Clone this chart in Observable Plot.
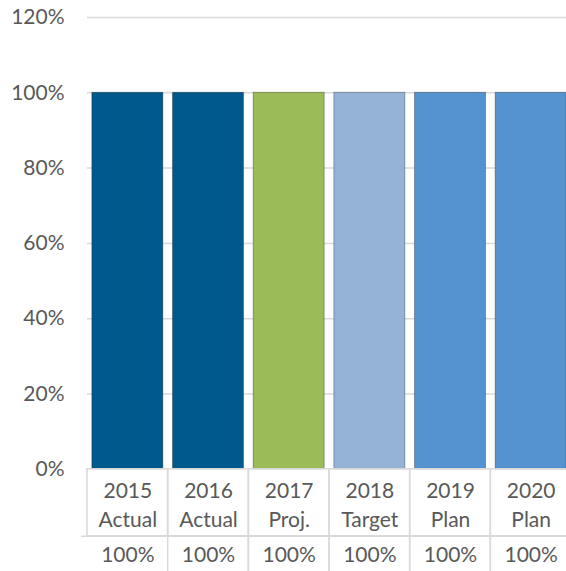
<!DOCTYPE html>
<html>
<head>
<meta charset="utf-8">
<script src="https://cdn.jsdelivr.net/npm/d3@7"></script>
<script src="https://cdn.jsdelivr.net/npm/@observablehq/plot@0.6"></script>
<style>
  html, body { margin: 0; padding: 0; background: #fff; overflow: hidden; }
  #chart { width: 566px; height: 571px; overflow: hidden; }
  #chart svg { display: block; overflow: hidden; }
</style>
</head>
<body>
<div id="chart"></div>
<script>
const years = ["2015", "2016", "2017", "2018", "2019", "2020"];
const stages = ["Actual", "Actual", "Proj.", "Target", "Plan", "Plan"];
const values = [1.0, 1.0, 1.0, 1.0, 1.0, 1.0];
const colors = ["#00598c", "#00598c", "#9bbb59", "#95b3d7", "#5592d0", "#5592d0"];
const yTicks = [0, 0.2, 0.4, 0.6, 0.8, 1.0, 1.2];

const cats = years.map((y, i) => `${y}\n${stages[i]}`);
const data = cats.map((c, i) => ({cat: c, value: values[i], color: colors[i]}));

// table rows lie below the 0% baseline (in y units)
const row1Bottom = -0.178;
const row2Bottom = -0.2715;
const textColor = "#595959";
const gridColor = "#d9d9d9";
const xRange = [87, 571];
const padInner = 0.12;
// half the gap between bars, so table cells span the full band step
const cellInset = -((xRange[1] - xRange[0]) / cats.length) * padInner / 2;
const fs = 21;

const chart = Plot.plot({
  width: 566,
  height: 571,
  marginTop: 17,
  marginBottom: 0,
  marginLeft: 87,
  marginRight: 0,
  style: {fontFamily: "Lato, 'Liberation Sans', sans-serif", fontSize: fs + "px", color: textColor, background: "#fff", overflow: "hidden"},
  x: {domain: cats, range: xRange, round: false, paddingInner: padInner, paddingOuter: padInner / 2, axis: null},
  y: {domain: [row2Bottom, 1.2], axis: null},
  marks: [
    Plot.ruleY(yTicks.filter(d => d > 0), {stroke: gridColor, strokeWidth: 1.5}),
    Plot.axisY(yTicks, {tickFormat: d3.format(".0%"), tickSize: 0, tickPadding: 23, fontSize: fs, fill: textColor, label: null}),
    Plot.barY(data, {x: "cat", y: "value", fill: "color", stroke: "#000", strokeOpacity: 0.3, strokeWidth: 1}),
    // table row 1 (category labels)
    Plot.rect(cats, {x: d => d, y1: 0, y2: row1Bottom, fill: "none", stroke: gridColor, strokeWidth: 1.5, insetLeft: cellInset, insetRight: cellInset}),
    // table row 2 (values)
    Plot.ruleY([row1Bottom], {stroke: gridColor, strokeWidth: 1.5, insetLeft: -6}),
    Plot.rect(cats.slice(1), {x: d => d, y1: row1Bottom, y2: row2Bottom - 0.05, fill: "none", stroke: gridColor, strokeWidth: 1.5, insetLeft: cellInset, insetRight: cellInset}),
    Plot.text(cats, {x: d => d, y: row1Bottom / 2, text: d => d, fill: textColor, fontSize: fs, lineHeight: 1.4}),
    Plot.text(data, {x: "cat", y: (row1Bottom + row2Bottom) / 2 - 0.004, text: d => d3.format(".0%")(d.value), fill: textColor, fontSize: fs})
  ]
});
document.getElementById("chart").appendChild(chart);
</script>
</body>
</html>
